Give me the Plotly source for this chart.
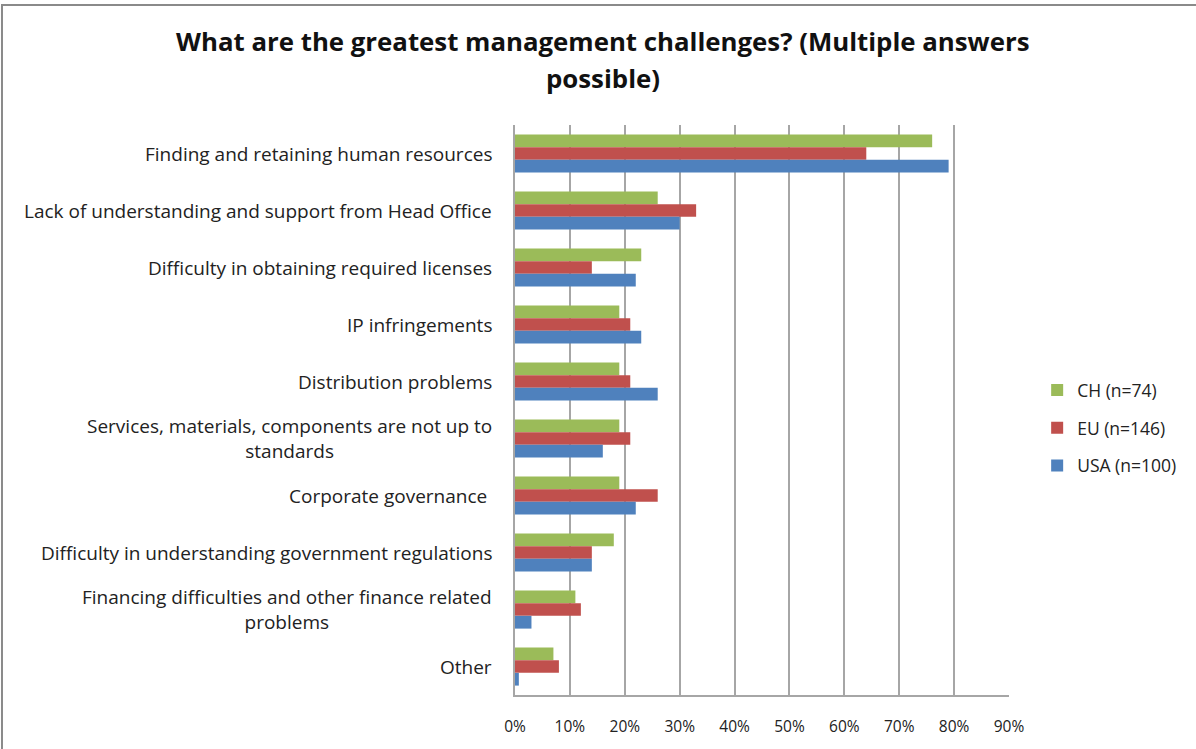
import plotly.graph_objects as go

categories = [
    "Finding and retaining human resources",
    "Lack of understanding and support from Head Office",
    "Difficulty in obtaining required licenses",
    "IP infringements",
    "Distribution problems",
    "Services, materials, components are not up to<br>standards",
    "Corporate governance ",
    "Difficulty in understanding government regulations",
    "Financing difficulties and other finance related<br>problems",
    "Other",
]
ch_values = [0.76, 0.26, 0.23, 0.19, 0.19, 0.19, 0.19, 0.18, 0.11, 0.07]
eu_values = [0.64, 0.33, 0.14, 0.21, 0.21, 0.21, 0.26, 0.14, 0.12, 0.08]
usa_values = [0.79, 0.30, 0.22, 0.23, 0.26, 0.16, 0.22, 0.14, 0.03, 0.007]
series_names = ["CH (n=74)", "EU (n=146)", "USA (n=100)"]
series_colors = ["#9BBB59", "#C0504D", "#4F81BD"]
x_ticks = [0, 0.1, 0.2, 0.3, 0.4, 0.5, 0.6, 0.7, 0.8, 0.9]
x_tick_labels = ["0%", "10%", "20%", "30%", "40%", "50%", "60%", "70%", "80%", "90%"]
title_line1 = "What are the greatest management challenges? (Multiple answers"
title_line2 = "possible)"

FONT = "'Open Sans', 'Liberation Sans', Arial, sans-serif"

fig = go.Figure()
for name, vals, col in zip(series_names, [ch_values, eu_values, usa_values], series_colors):
    fig.add_trace(go.Bar(
        y=categories, x=vals, name=name, orientation="h",
        marker=dict(color=col, line=dict(width=0)),
        legendgroup=name,
    ))

annotations = []
for c in categories:
    annotations.append(dict(
        x=-0.042, y=c, xref="paper", yref="y", text=c, showarrow=False,
        xanchor="right", yanchor="middle", align="center",
        font=dict(family=FONT, size=19, color="#222222"),
    ))
annotations.append(dict(
    x=(603 - 515) / 494, y=(704 - 77) / 579, xref="paper", yref="paper",
    text="<b>" + title_line2 + "</b>",
    showarrow=False, xanchor="center", yanchor="middle",
    font=dict(family=FONT, size=25.8, color="#111111"),
))

fig.update_layout(
    width=1196, height=749,
    margin=dict(l=515, r=187, t=125, b=45),
    paper_bgcolor="white", plot_bgcolor="white",
    barmode="group", bargap=0.33, bargroupgap=0,
    title=dict(
        text="<b>" + title_line1 + "</b>",
        x=0.504, xanchor="center", xref="container", y=1 - 42 / 749, yanchor="middle",
        font=dict(family=FONT, size=25.8, color="#111111"),
    ),
    showlegend=True,
    legend=dict(
        x=1.057, y=0.468, xanchor="left", yanchor="middle",
        traceorder="grouped", tracegroupgap=12,
        font=dict(family=FONT, size=17.5, color="#222222"),
        bgcolor="rgba(0,0,0,0)",
    ),
    annotations=annotations,
    shapes=[dict(
        type="rect", xref="paper", yref="paper",
        x0=-1.0385, x1=1.40, y0=-0.12, y1=1.2105,
        line=dict(color="#8a8a8a", width=2), fillcolor="rgba(0,0,0,0)", layer="below",
    )],
)
fig.update_xaxes(
    range=[0, 0.9], tickvals=x_ticks, ticktext=x_tick_labels,
    showgrid=True, gridcolor="#a6a6a6", gridwidth=1.5,
    showline=True, linecolor="#a6a6a6", linewidth=1.5,
    zeroline=False, ticks="", ticklabelstandoff=17,
    tickfont=dict(family=FONT, size=15.5, color="#222222"),
)
fig.update_yaxes(
    autorange="reversed", showticklabels=False,
    showline=True, linecolor="#a6a6a6", linewidth=1.5,
    showgrid=False, ticks="",
)

fig.write_html("out.html", config={"displayModeBar": False},
               post_script="document.body.style.margin='0';")
